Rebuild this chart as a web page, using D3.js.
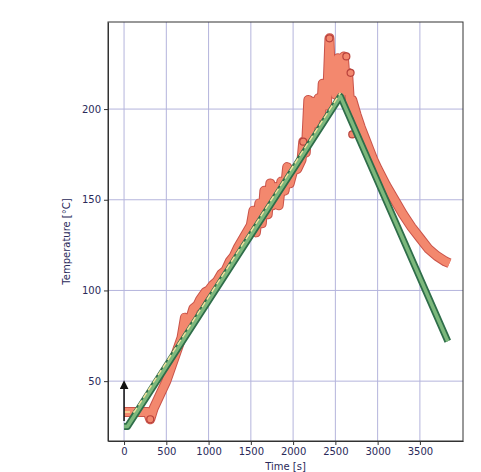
<!DOCTYPE html>
<html>
<head>
<meta charset="utf-8">
<script src="https://cdn.jsdelivr.net/npm/d3@7"></script>
<style>
  body { margin: 0; background: #fff; }
  text { font-family: "DejaVu Sans", sans-serif; }
</style>
</head>
<body>
<script>
// Tick values
const xTicks = [0, 500, 1000, 1500, 2000, 2500, 3000, 3500];
const yTicks = [50, 100, 150, 200];

// Set point (green): [time s, temperature °C]
const setTime = [0, 40, 2560, 3830];
const setTemp = [25, 25, 207, 72];

// Reference (pale yellow)
const refTime = [0, 120, 2560];
const refTemp = [33, 33, 209];

const measTime = [0, 100, 200, 280, 310, 350, 420, 500, 560, 620, 680, 720, 760, 820, 870, 900, 960,
  1000, 1050, 1100, 1150, 1200, 1250, 1300, 1350, 1400, 1450, 1500, 1530, 1560, 1600, 1630, 1660,
  1700, 1730, 1760, 1800, 1830, 1860, 1900, 1930, 1960, 2000, 2050, 2100, 2120, 2150, 2180, 2200,
  2230, 2260, 2300, 2330, 2350, 2400, 2430, 2450, 2480, 2500, 2530, 2560, 2600, 2630, 2650, 2680,
  2700, 2750, 2800, 2850, 2900, 2950, 3000, 3100, 3200, 3300, 3400, 3500, 3600, 3700, 3800, 3850];
const measTemp = [33, 33, 33, 33, 29, 35, 42, 50, 58, 66, 74, 85, 81, 90, 92, 95, 99,
  100, 103, 105, 109, 111, 116, 119, 124, 128, 132, 136, 144, 132, 148, 137, 155,
  142, 159, 147, 157, 147, 160, 155, 168, 159, 166, 167, 172, 182, 176, 205, 186,
  204, 192, 206, 196, 214, 202, 239, 212, 226, 208, 228, 206, 229, 210, 220, 198,
  205, 197, 190, 184, 178, 172, 167, 158, 150, 142, 135, 129, 123, 119, 116, 115];

// Outlier markers shown as circles
const dotTime = [310, 2430, 2630, 2680, 2700, 2120];
const dotTemp = [29, 239, 229, 220, 186, 182];

const width = 481;
const height = 472;
const margin = {top: 22, right: 18, bottom: 31, left: 108};

const svg = d3.select('body').append('svg')
  .attr('width', width)
  .attr('height', height);

const x = d3.scaleLinear()
  .domain([-190, 4010])
  .range([margin.left, width - margin.right]);

const y = d3.scaleLinear()
  .domain([17, 248])
  .range([height - margin.bottom, margin.top]);

// Grid
svg.append('g')
  .selectAll('line')
  .data(xTicks)
  .join('line')
  .attr('x1', d => x(d)).attr('x2', d => x(d))
  .attr('y1', margin.top).attr('y2', height - margin.bottom)
  .attr('stroke', '#b4b4dc').attr('stroke-width', 1);

svg.append('g')
  .selectAll('line')
  .data(yTicks)
  .join('line')
  .attr('x1', margin.left).attr('x2', width - margin.right)
  .attr('y1', d => y(d)).attr('y2', d => y(d))
  .attr('stroke', '#b4b4dc').attr('stroke-width', 1);

const line = d3.line().x(d => x(d[0])).y(d => y(d[1]));

const setData = setTime.map((t, i) => [t, setTemp[i]]);
const refData = refTime.map((t, i) => [t, refTemp[i]]);
const measData = measTime.map((t, i) => [t, measTemp[i]]);
const dotData = dotTime.map((t, i) => [t, dotTemp[i]]);

// Measured band
svg.append('path')
  .datum(measData)
  .attr('d', line)
  .attr('fill', 'none')
  .attr('stroke', '#c9534a')
  .attr('stroke-width', 10)
  .attr('stroke-linejoin', 'round');
svg.append('path')
  .datum(measData)
  .attr('d', line)
  .attr('fill', 'none')
  .attr('stroke', '#f3886e')
  .attr('stroke-width', 8)
  .attr('stroke-linejoin', 'round');

svg.append('g')
  .selectAll('circle')
  .data(dotData)
  .join('circle')
  .attr('cx', d => x(d[0]))
  .attr('cy', d => y(d[1]))
  .attr('r', 3.5)
  .attr('fill', '#f3886e')
  .attr('stroke', '#b8423c')
  .attr('stroke-width', 1.2);

// Set point
svg.append('path')
  .datum(setData)
  .attr('d', line)
  .attr('fill', 'none')
  .attr('stroke', '#2f6e4a')
  .attr('stroke-width', 7)
  .attr('stroke-linejoin', 'round');
svg.append('path')
  .datum(setData)
  .attr('d', line)
  .attr('fill', 'none')
  .attr('stroke', '#7cb87c')
  .attr('stroke-width', 3.5)
  .attr('stroke-linejoin', 'round');

// Reference
svg.append('path')
  .datum(refData)
  .attr('d', line)
  .attr('fill', 'none')
  .attr('stroke', '#f6e3a0')
  .attr('stroke-width', 1.5)
  .attr('stroke-dasharray', '6,3');

// Arrow at t = 0
svg.append('defs').append('marker')
  .attr('id', 'head')
  .attr('viewBox', '0 0 10 10')
  .attr('refX', 5).attr('refY', 5)
  .attr('markerWidth', 6).attr('markerHeight', 6)
  .attr('orient', 'auto')
  .append('path')
  .attr('d', 'M0,0L10,5L0,10z')
  .attr('fill', '#111');

svg.append('line')
  .attr('x1', x(0)).attr('x2', x(0))
  .attr('y1', y(28)).attr('y2', y(48))
  .attr('stroke', '#111')
  .attr('stroke-width', 1.5)
  .attr('marker-end', 'url(#head)');

// Axes
const xAxis = svg.append('g')
  .attr('transform', `translate(0,${height - margin.bottom})`)
  .call(d3.axisBottom(x).tickValues(xTicks).tickFormat(d3.format('d')).tickSize(4).tickSizeOuter(0));

const yAxis = svg.append('g')
  .attr('transform', `translate(${margin.left},0)`)
  .call(d3.axisLeft(y).tickValues(yTicks).tickFormat(d3.format('d')).tickSize(4).tickSizeOuter(0));

[xAxis, yAxis].forEach(g => {
  g.selectAll('text').attr('fill', '#2a2a5a').style('font-size', '10px');
  g.selectAll('line').attr('stroke', '#333');
  g.select('.domain').attr('stroke', '#333');
});

// Frame
svg.append('rect')
  .attr('x', margin.left).attr('y', margin.top)
  .attr('width', width - margin.right - margin.left)
  .attr('height', height - margin.bottom - margin.top)
  .attr('fill', 'none')
  .attr('stroke', '#333');

// Labels
svg.append('text')
  .attr('x', (margin.left + width - margin.right) / 2)
  .attr('y', height - 2)
  .attr('text-anchor', 'middle')
  .attr('fill', '#2a2a5a')
  .style('font-size', '10px')
  .text('Time [s]');

svg.append('text')
  .attr('transform', `translate(70,${(margin.top + height - margin.bottom) / 2 + 10}) rotate(-90)`)
  .attr('text-anchor', 'middle')
  .attr('fill', '#2a2a5a')
  .style('font-size', '10px')
  .text('Temperature [°C]');
</script>
</body>
</html>
